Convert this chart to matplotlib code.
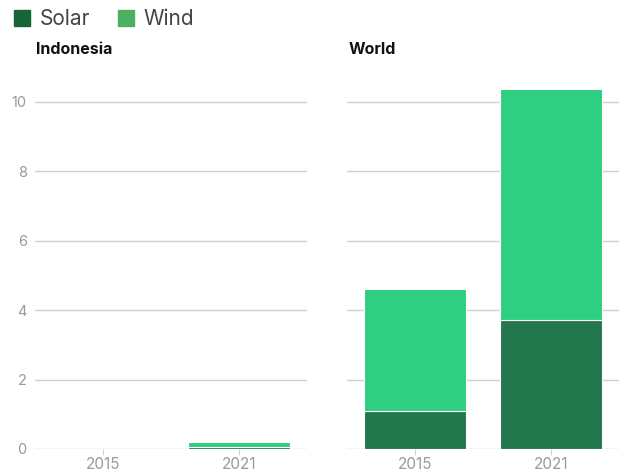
"""Solar and wind share of electricity, Indonesia vs World."""
import matplotlib
matplotlib.use("Agg")
import matplotlib.pyplot as plt
from matplotlib.patches import Patch

YEARS = ["2015", "2021"]
PANELS = ["Indonesia", "World"]
SOLAR = {"Indonesia": [0.0, 0.05], "World": [1.1, 3.72]}
WIND = {"Indonesia": [0.0, 0.15], "World": [3.5, 6.65]}
Y_TICKS = [0, 2, 4, 6, 8, 10]

SOLAR_C = "#23774c"
WIND_C = "#2ecf80"
GRID_C = "#d0d0d0"
TICK_C = "#999999"

plt.rcParams["font.family"] = ["Inter", "DejaVu Sans"]

fig = plt.figure(figsize=(6.21, 4.74), dpi=100)
W, H = 621, 474
y0_px, y_top_px = 449, 449 - 11 * 34.7
lefts = [35, 347]
for i, name in enumerate(PANELS):
    ax = fig.add_axes([lefts[i] / W, (H - y0_px) / H, 272 / W, (y0_px - y_top_px) / H])
    x = range(len(YEARS))
    ax.bar(x, SOLAR[name], width=0.75, color=SOLAR_C, edgecolor="white", linewidth=0.8, zorder=3)
    ax.bar(x, WIND[name], bottom=SOLAR[name], width=0.75, color=WIND_C,
           edgecolor="white", linewidth=0.8, zorder=3)
    ax.set_xlim(-0.5, 1.5)
    ax.set_ylim(0, 11)
    ax.set_yticks(Y_TICKS)
    for t in Y_TICKS:
        ax.axhline(t, color=GRID_C, lw=1.0, zorder=1)
    ax.set_xticks(list(x))
    ax.set_xticklabels(YEARS)
    ax.tick_params(axis="x", length=4, color=GRID_C, labelcolor=TICK_C, labelsize=11, pad=2)
    if i == 0:
        ax.tick_params(axis="y", length=0, labelcolor=TICK_C, labelsize=10.5, pad=6)
    else:
        ax.tick_params(axis="y", length=0, labelleft=False)
    for s in ax.spines.values():
        s.set_visible(False)
    fig.text(lefts[i] / W + 0.002, 1 - 49 / H, name, fontsize=11.5, fontweight="bold",
             va="center", ha="left", color="#111111")

handles = [Patch(color="#176537", label="Solar"), Patch(color="#4caf62", label="Wind")]
fig.legend(handles=handles, loc="upper left", bbox_to_anchor=(-0.007, 1.02), ncol=2,
           frameon=False, fontsize=15, handlelength=0.75, handleheight=0.75,
           handletextpad=0.45, columnspacing=1.35, labelcolor="#444444")

fig.savefig("out.png", dpi=100)
